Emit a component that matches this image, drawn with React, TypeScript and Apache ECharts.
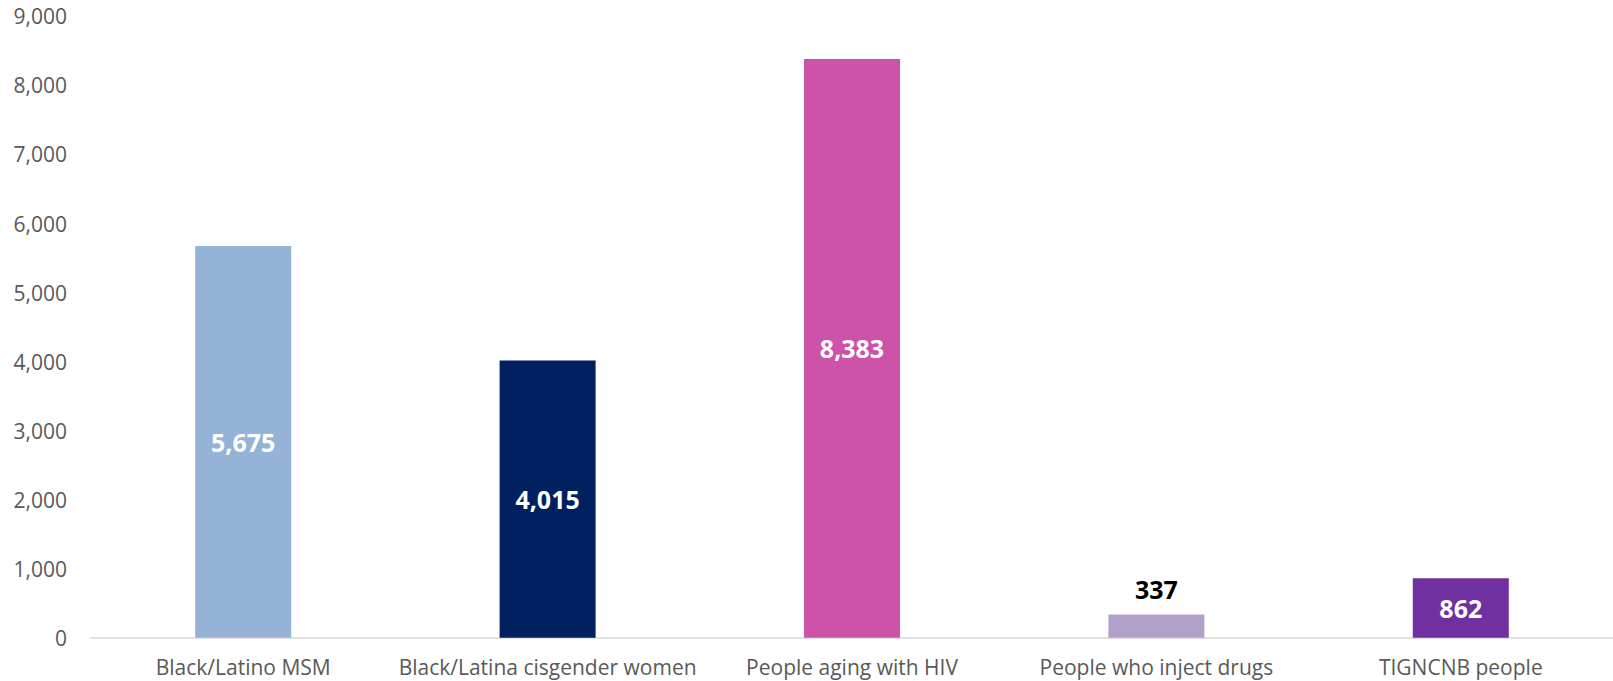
import React, { useEffect, useRef } from "react";
import * as echarts from "echarts";

const categories = [
  "Black/Latino MSM",
  "Black/Latina cisgender women",
  "People aging with HIV",
  "People who inject drugs",
  "TIGNCNB people",
];
const values = [5675, 4015, 8383, 337, 862];
const barColors = ["#95B3D7", "#002060", "#CC53A8", "#B1A0C7", "#7030A0"];
const labelInside = [true, true, true, false, true];
const yTicks = { min: 0, max: 9000, interval: 1000 };

const fmt = (v: number) => v.toLocaleString("en-US");

export default function App() {
  const ref = useRef<HTMLDivElement>(null);
  useEffect(() => {
    if (!ref.current) return;
    const chart = echarts.init(ref.current, undefined, { renderer: "svg" });
    const font = "'Open Sans', sans-serif";
    chart.setOption({
      animation: false,
      backgroundColor: "#ffffff",
      grid: { left: 91, top: 16.4, width: 1532, height: 621.4, containLabel: false },
      xAxis: {
        type: "category",
        data: categories,
        axisLine: { show: true, lineStyle: { color: "#d9d9d9", width: 1.5 } },
        axisTick: { show: false },
        axisLabel: { color: "#595959", fontSize: 21, fontFamily: font, margin: 19, interval: 0 },
      },
      yAxis: {
        type: "value",
        min: yTicks.min,
        max: yTicks.max,
        interval: yTicks.interval,
        splitLine: { show: false },
        axisLine: { show: false },
        axisTick: { show: false },
        axisLabel: {
          color: "#595959",
          fontSize: 21,
          fontFamily: font,
          margin: 24,
          formatter: (v: number) => fmt(v),
        },
      },
      series: [
        {
          type: "bar",
          barWidth: 96,
          data: values.map((v, i) => ({
            value: v,
            itemStyle: { color: barColors[i] },
            label: {
              show: true,
              position: labelInside[i] ? "inside" : "top",
              color: labelInside[i] ? "#ffffff" : "#000000",
              fontWeight: "bold",
              fontSize: 25,
              fontFamily: font,
              distance: 13,
              formatter: () => fmt(v),
            },
          })),
        },
      ],
    });
    return () => chart.dispose();
  }, []);
  return (
    <div
      ref={ref}
      style={{ position: "fixed", left: 0, top: 0, width: 1613, height: 681, background: "#fff" }}
    />
  );
}
